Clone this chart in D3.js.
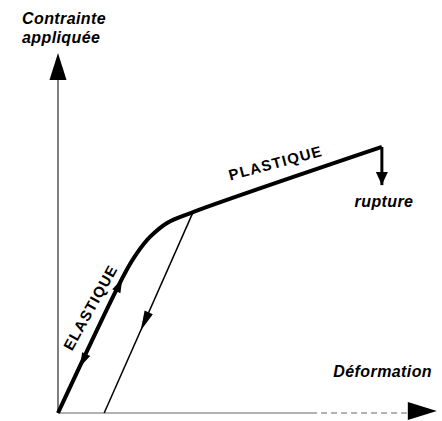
<!DOCTYPE html>
<html>
<head>
<meta charset="utf-8">
<script src="https://cdn.jsdelivr.net/npm/d3@7"></script>
<style>
  body { margin: 0; background: #fff; }
  text { font-family: "Liberation Sans", Arial, sans-serif; font-weight: bold; fill: #000; }
</style>
</head>
<body>
<div id="viz"></div>
<script>
// loading curve (strain, stress) in arbitrary units 0..100
var loading = [[0, 0], [19.6, 38.9], [23.1, 44.4], [26.9, 48.9], [31.9, 52.8], [39.5, 55.8], [94.7, 73.9]];
var unloading = [[39.5, 55.8], [13.5, 0]];
var rupture = [[94.7, 73.9], [94.7, 63.3]];
var axisLabels = ['Contrainte', 'appliquée', 'Déformation'];
var zoneLabels = ['ELASTIQUE', 'PLASTIQUE', 'rupture'];

var width = 442,
    height = 421;

var x = d3.scaleLinear().domain([0, 100]).range([58, 400]);
var y = d3.scaleLinear().domain([0, 100]).range([413, 53]);

var svg = d3.select('#viz').append('svg')
    .attr('width', width)
    .attr('height', height);

// axes
svg.append('line')
    .attr('x1', x(0)).attr('y1', y(0))
    .attr('x2', x(0)).attr('y2', y(100) + 20)
    .attr('stroke', '#555')
    .attr('stroke-width', 1.5);

svg.append('line')
    .attr('x1', x(0)).attr('y1', y(0))
    .attr('x2', x(74)).attr('y2', y(0))
    .attr('stroke', '#999')
    .attr('stroke-width', 1.5);

svg.append('line')
    .attr('x1', x(74)).attr('y1', y(0))
    .attr('x2', x(102)).attr('y2', y(0))
    .attr('stroke', '#999')
    .attr('stroke-width', 1.5)
    .attr('stroke-dasharray', '6,4');

// axis arrow heads
svg.append('path')
    .attr('d', 'M' + x(0) + ',' + y(100) + 'l-8.5,27h17z')
    .attr('fill', '#000');

svg.append('path')
    .attr('d', 'M' + (x(102) + 30) + ',' + (y(0) - 2) + 'l-29,-9v18z')
    .attr('fill', '#000');

var line = d3.line()
    .x(function(d) { return x(d[0]); })
    .y(function(d) { return y(d[1]); });

svg.append('path')
    .attr('d', line.curve(d3.curveCatmullRom.alpha(0.5))(loading))
    .attr('fill', 'none')
    .attr('stroke', '#000')
    .attr('stroke-width', 4)
    .attr('stroke-linejoin', 'round');

svg.append('path')
    .attr('d', d3.line().x(function(d) { return x(d[0]); }).y(function(d) { return y(d[1]); })(unloading))
    .attr('fill', 'none')
    .attr('stroke', '#000')
    .attr('stroke-width', 1.5);

svg.append('path')
    .attr('d', d3.line().x(function(d) { return x(d[0]); }).y(function(d) { return y(d[1]); })(rupture))
    .attr('fill', 'none')
    .attr('stroke', '#000')
    .attr('stroke-width', 3);

// arrow head at fraction t along segment a->b, pointing toward b
function arrowHead(a, b, t, len, w) {
    var ax = x(a[0]), ay = y(a[1]), bx = x(b[0]), by = y(b[1]);
    var tx = ax + (bx - ax) * t, ty = ay + (by - ay) * t;
    var ang = Math.atan2(by - ay, bx - ax) * 180 / Math.PI;
    svg.append('path')
        .attr('d', 'M0,0L' + (-len) + ',' + (-w / 2) + 'L' + (-len) + ',' + (w / 2) + 'Z')
        .attr('transform', 'translate(' + tx + ',' + ty + ') rotate(' + ang + ')')
        .attr('fill', '#000');
}

arrowHead(loading[0], loading[1], 0.96, 14, 9);
arrowHead(loading[1], loading[0], 0.67, 14, 9);
arrowHead(unloading[0], unloading[1], 0.59, 20, 9);
arrowHead(rupture[0], rupture[1], 1, 13, 12);

// labels
svg.append('text')
    .attr('x', 22).attr('y', 24)
    .style('font-style', 'italic').style('font-size', '16px').style('letter-spacing', '0.4px')
    .text(axisLabels[0]);
svg.append('text')
    .attr('x', 22).attr('y', 43)
    .style('font-style', 'italic').style('font-size', '16px').style('letter-spacing', '0.4px')
    .text(axisLabels[1]);
svg.append('text')
    .attr('x', 432).attr('y', 377)
    .attr('text-anchor', 'end')
    .style('font-style', 'italic').style('font-size', '16px').style('letter-spacing', '0.4px')
    .text(axisLabels[2]);

svg.append('text')
    .attr('transform', 'translate(95,310) rotate(-61)')
    .attr('text-anchor', 'middle')
    .style('font-size', '15px').style('letter-spacing', '1px')
    .text(zoneLabels[0]);
svg.append('text')
    .attr('transform', 'translate(277,168) rotate(-15)')
    .attr('text-anchor', 'middle')
    .style('font-size', '15px').style('letter-spacing', '1.2px')
    .text(zoneLabels[1]);
svg.append('text')
    .attr('x', 384).attr('y', 207)
    .attr('text-anchor', 'middle')
    .style('font-style', 'italic').style('font-size', '16px').style('letter-spacing', '0.4px')
    .text(zoneLabels[2]);
</script>
</body>
</html>
